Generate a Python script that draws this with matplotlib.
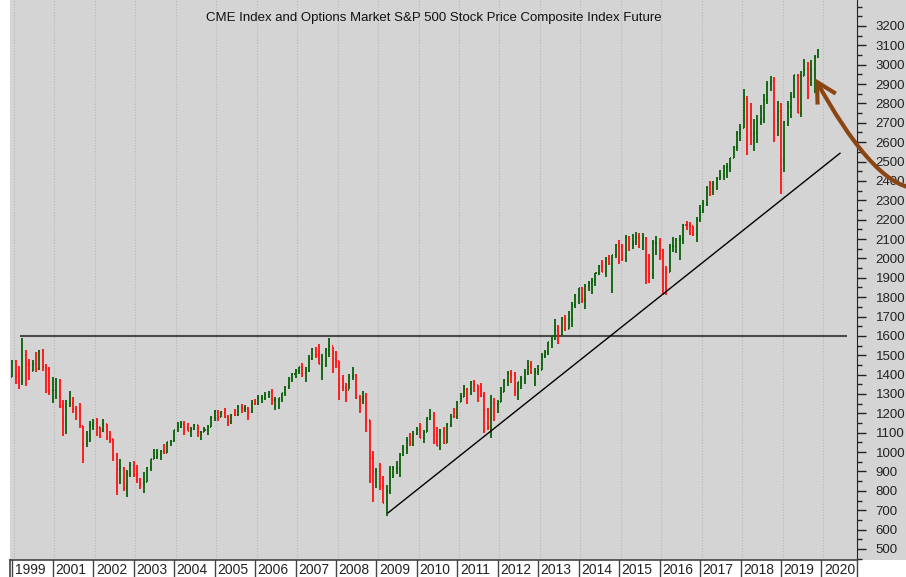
"""
Monthly OHLC bars of the CME S&P 500 future, Dec 1999 to Nov 2019,
with the 1600 resistance line, the 2009 trend line and a hand-drawn arrow.
"""

import numpy as np
import matplotlib.pyplot as plt
from matplotlib.collections import LineCollection
from matplotlib.patches import Rectangle, PathPatch
from matplotlib.path import Path
from matplotlib.ticker import MultipleLocator

plt.rcParams["font.family"] = ["Liberation Sans", "DejaVu Sans"]

title = "CME Index and Options Market S&P 500 Stock Price Composite Index Future"
first_month = (1999, 12)

# one value per month, Dec 1999 first, Nov 2019 last (partial)
opens = [
    1389,
    1469, 1394, 1366, 1499, 1452, 1421, 1455, 1431, 1518, 1437, 1429, 1315,
    1320, 1366, 1240, 1160, 1249, 1256, 1224, 1211, 1134, 1041, 1060, 1139,
    1148, 1130, 1107, 1147, 1077, 1067, 990, 912, 916, 815, 886, 936,
    880, 856, 841, 848, 917, 964, 975, 990, 1008, 996, 1051, 1058,
    1112, 1131, 1145, 1126, 1107, 1121, 1141, 1102, 1104, 1115, 1130, 1174,
    1212, 1181, 1204, 1181, 1157, 1192, 1191, 1234, 1220, 1229, 1207, 1249,
    1248, 1280, 1281, 1295, 1311, 1270, 1270, 1277, 1304, 1336, 1378, 1401,
    1418, 1438, 1407, 1421, 1482, 1531, 1503, 1455, 1474, 1527, 1549, 1481,
    1468, 1379, 1331, 1323, 1386, 1400, 1280, 1267, 1283, 1166, 969, 896,
    903, 826, 735, 798, 873, 919, 919, 987, 1021, 1057, 1036, 1096,
    1115, 1074, 1104, 1169, 1187, 1089, 1031, 1102, 1049, 1141, 1183, 1181,
    1258, 1286, 1327, 1326, 1364, 1345, 1321, 1292, 1219, 1131, 1253, 1247,
    1258, 1312, 1366, 1408, 1398, 1310, 1362, 1379, 1407, 1441, 1412, 1416,
    1426, 1498, 1515, 1569, 1598, 1631, 1606, 1686, 1633, 1682, 1757, 1806,
    1848, 1783, 1859, 1872, 1884, 1924, 1960, 1931, 2003, 1972, 2018, 2068,
    2059, 1995, 2105, 2068, 2086, 2107, 2063, 2104, 1972, 1920, 2079, 2080,
    2044, 1940, 1932, 2060, 2065, 2097, 2099, 2174, 2171, 2168, 2126, 2199,
    2239, 2279, 2364, 2363, 2384, 2412, 2423, 2470, 2472, 2519, 2575, 2648,
    2674, 2824, 2714, 2641, 2648, 2705, 2718, 2816, 2902, 2914, 2712, 2760,
    2507, 2704, 2784, 2834, 2946, 2752, 2942, 2980, 2926, 2977, 3038,
]
highs = [
    1473,
    1478, 1444, 1588, 1527, 1481, 1474, 1517, 1525, 1530, 1454, 1438, 1389,
    1384, 1377, 1268, 1269, 1316, 1287, 1240, 1255, 1136, 1111, 1163, 1173,
    1176, 1131, 1173, 1147, 1107, 1068, 994, 965, 925, 908, 951, 954,
    935, 865, 896, 924, 966, 1015, 1016, 1011, 1040, 1054, 1063, 1113,
    1155, 1159, 1163, 1150, 1128, 1146, 1141, 1109, 1132, 1142, 1188, 1217,
    1218, 1213, 1229, 1192, 1199, 1220, 1245, 1246, 1243, 1233, 1271, 1276,
    1295, 1297, 1310, 1318, 1326, 1284, 1281, 1306, 1340, 1389, 1407, 1431,
    1441, 1461, 1438, 1499, 1535, 1541, 1556, 1504, 1539, 1587, 1545, 1523,
    1471, 1396, 1359, 1404, 1441, 1405, 1293, 1313, 1303, 1168, 1007, 919,
    944, 876, 832, 930, 930, 956, 996, 1039, 1080, 1101, 1111, 1130,
    1150, 1113, 1181, 1220, 1206, 1131, 1121, 1130, 1148, 1196, 1227, 1263,
    1303, 1344, 1333, 1367, 1370, 1346, 1357, 1308, 1230, 1293, 1278, 1270,
    1334, 1378, 1420, 1422, 1415, 1363, 1392, 1427, 1475, 1470, 1434, 1448,
    1510, 1525, 1570, 1598, 1687, 1654, 1698, 1709, 1730, 1775, 1814, 1849,
    1850, 1867, 1883, 1897, 1924, 1968, 1991, 2005, 2019, 2018, 2075, 2093,
    2072, 2120, 2117, 2126, 2135, 2130, 2133, 2113, 2021, 2094, 2116, 2105,
    2046, 1963, 2073, 2111, 2103, 2120, 2178, 2194, 2188, 2169, 2214, 2278,
    2301, 2372, 2401, 2399, 2419, 2454, 2484, 2491, 2520, 2582, 2657, 2695,
    2873, 2836, 2801, 2718, 2742, 2791, 2848, 2917, 2940, 2939, 2815, 2800,
    2708, 2813, 2860, 2949, 2954, 2965, 3028, 3014, 3022, 3050, 3080,
]
lows = [
    1387,
    1350, 1325, 1346, 1339, 1373, 1420, 1413, 1422, 1419, 1305, 1294, 1254,
    1275, 1228, 1081, 1092, 1232, 1203, 1165, 1125, 944, 1026, 1054, 1114,
    1081, 1074, 1106, 1063, 1049, 953, 776, 833, 800, 768, 873, 872,
    840, 807, 789, 847, 902, 963, 962, 960, 990, 995, 1032, 1054,
    1106, 1124, 1088, 1107, 1076, 1113, 1079, 1060, 1102, 1090, 1128, 1163,
    1163, 1180, 1176, 1137, 1146, 1188, 1184, 1201, 1205, 1168, 1202, 1246,
    1245, 1253, 1268, 1280, 1245, 1219, 1224, 1261, 1291, 1327, 1360, 1385,
    1403, 1389, 1364, 1416, 1476, 1484, 1454, 1370, 1439, 1489, 1406, 1435,
    1271, 1317, 1257, 1324, 1374, 1272, 1200, 1248, 1106, 840, 741, 815,
    805, 735, 670, 784, 866, 889, 869, 979, 992, 1030, 1030, 1086,
    1071, 1045, 1102, 1165, 1040, 1029, 1011, 1040, 1049, 1131, 1174, 1173,
    1258, 1285, 1249, 1294, 1311, 1258, 1282, 1101, 1115, 1074, 1159, 1202,
    1258, 1312, 1340, 1358, 1292, 1267, 1325, 1354, 1396, 1403, 1343, 1398,
    1426, 1485, 1501, 1536, 1581, 1560, 1605, 1627, 1633, 1646, 1746, 1767,
    1770, 1738, 1834, 1814, 1860, 1915, 1930, 1905, 1964, 1821, 2001, 1972,
    1988, 1981, 2039, 2048, 2067, 2056, 2044, 1867, 1872, 1893, 2019, 1993,
    1812, 1810, 1932, 2033, 2026, 1992, 2075, 2148, 2120, 2114, 2084, 2188,
    2234, 2271, 2323, 2329, 2353, 2405, 2407, 2417, 2447, 2520, 2557, 2605,
    2674, 2533, 2586, 2554, 2594, 2691, 2698, 2796, 2864, 2603, 2631, 2330,
    2444, 2681, 2723, 2830, 2750, 2728, 2942, 2822, 2892, 2856, 3035,
]
closes = [
    1469,
    1394, 1366, 1499, 1452, 1421, 1455, 1431, 1518, 1437, 1429, 1315, 1320,
    1366, 1240, 1160, 1249, 1256, 1224, 1211, 1134, 1041, 1060, 1139, 1148,
    1130, 1107, 1147, 1077, 1067, 990, 912, 916, 815, 886, 936, 880,
    856, 841, 848, 917, 964, 975, 990, 1008, 996, 1051, 1058, 1112,
    1131, 1145, 1126, 1107, 1121, 1141, 1102, 1104, 1115, 1130, 1174, 1212,
    1181, 1204, 1181, 1157, 1192, 1191, 1234, 1220, 1229, 1207, 1249, 1248,
    1280, 1281, 1295, 1311, 1270, 1270, 1277, 1304, 1336, 1378, 1401, 1418,
    1438, 1407, 1421, 1482, 1531, 1503, 1455, 1474, 1527, 1549, 1481, 1468,
    1379, 1331, 1323, 1386, 1400, 1280, 1267, 1283, 1166, 969, 896, 903,
    826, 735, 798, 873, 919, 919, 987, 1021, 1057, 1036, 1096, 1115,
    1074, 1104, 1169, 1187, 1089, 1031, 1102, 1049, 1141, 1183, 1181, 1258,
    1286, 1327, 1326, 1364, 1345, 1321, 1292, 1219, 1131, 1253, 1247, 1258,
    1312, 1366, 1408, 1398, 1310, 1362, 1379, 1407, 1441, 1412, 1416, 1426,
    1498, 1515, 1569, 1598, 1631, 1606, 1686, 1633, 1682, 1757, 1806, 1848,
    1783, 1859, 1872, 1884, 1924, 1960, 1931, 2003, 1972, 2018, 2068, 2059,
    1995, 2105, 2068, 2086, 2107, 2063, 2104, 1972, 1920, 2079, 2080, 2044,
    1940, 1932, 2060, 2065, 2097, 2099, 2174, 2171, 2168, 2126, 2199, 2239,
    2279, 2364, 2363, 2384, 2412, 2423, 2470, 2472, 2519, 2575, 2648, 2674,
    2824, 2714, 2641, 2648, 2705, 2718, 2816, 2902, 2914, 2712, 2760, 2507,
    2704, 2784, 2834, 2946, 2752, 2942, 2980, 2926, 2977, 3038, 3075,
]

year_labels = ["1999"] + [str(y) for y in range(2001, 2021)]
resistance = 1600
resistance_span = (2000.17, 2020.58)
trend_start = (2009.25, 687)
trend_end = (2020.42, 2543)

W, H = 906, 577
X0, X1 = 1999.90, 2020.84
Y0, Y1 = 443, 3334


def main():
    fig = plt.figure(figsize=(W / 100, H / 100), dpi=100)
    fig.patch.set_facecolor("white")
    fig.add_artist(
        Rectangle((10 / W, 17 / H), 896 / W, 560 / H, transform=fig.transFigure,
                  facecolor="#d4d4d4", edgecolor="none", zorder=0)
    )

    ax = fig.add_axes([10 / W, 17 / H, 847 / W, 560 / H])
    ax.set_facecolor("none")
    ax.set_xlim(X0, X1)
    ax.set_ylim(Y0, Y1)

    for yr in range(2000, 2021):
        ax.axvline(yr, color="#b8b8b8", lw=0.8, ls=(0, (1, 1.5)), zorder=1)

    o = np.array(opens, float)
    h = np.array(highs, float)
    l = np.array(lows, float)
    c = np.array(closes, float)
    t = first_month[0] + (first_month[1] - 0.5) / 12 + np.arange(len(c)) / 12
    w = 1 / 40

    segs, cols = [], []
    for ti, oi, hi, li, ci in zip(t, o, h, l, c):
        col = "#086008" if ci >= oi else "#ff1010"
        segs += [[(ti, li), (ti, hi)], [(ti - w, oi), (ti, oi)], [(ti, ci), (ti + w, ci)]]
        cols += [col] * 3
    ax.add_collection(LineCollection(segs, colors=cols, linewidths=1.3, zorder=3))

    ax.plot(resistance_span, [resistance] * 2, color="#4a4a4a", lw=1.5, zorder=2)
    ax.plot([trend_start[0], trend_end[0]], [trend_start[1], trend_end[1]],
            color="black", lw=1.0, zorder=4)

    ax.text(0.5, 1 - 18 / 560, title, transform=ax.transAxes, ha="center",
            va="center", fontsize=9.5, color="#111111")

    for s in ["left", "top", "bottom"]:
        ax.spines[s].set_visible(False)
    ax.spines["right"].set_color("#222222")
    ax.set_xticks([])
    ax.yaxis.tick_right()
    ax.set_yticks(range(500, 3201, 100))
    ax.yaxis.set_minor_locator(MultipleLocator(50))
    ax.tick_params(axis="y", which="major", length=6.5, width=1, pad=7,
                   labelsize=9.5, colors="#222222")
    ax.tick_params(axis="y", which="minor", length=3.5, width=1, colors="#222222")

    # boxed year labels along the bottom
    strip = fig.add_axes([10 / W, 0, 847 / W, 17 / H])
    strip.set_xlim(X0, X1)
    strip.set_ylim(0, 1)
    strip.axis("off")
    strip.plot([X0, X1], [1, 1], color="#444444", lw=1.2, clip_on=False)
    strip.plot([X0, X0], [0, 1], color="#444444", lw=1.2, clip_on=False)
    for i, lab in enumerate(year_labels):
        yr = 2000 + i
        strip.plot([yr - 0.04, yr - 0.04], [0, 1], color="#444444", lw=1.0)
        strip.text(yr + 0.02, 0.42, lab, ha="left", va="center", fontsize=10,
                   color="#222222")
    strip.plot([X1, X1], [0, 1], color="#444444", lw=1.0, clip_on=False)

    # hand-drawn arrow, in pixel coordinates of the image
    ov = fig.add_axes([0, 0, 1, 1], zorder=5)
    ov.set_xlim(0, W)
    ov.set_ylim(H, 0)
    ov.axis("off")
    brown = "#8b4513"
    curve = Path([(915, 188), (885, 187), (850, 142), (817, 82)],
                 [Path.MOVETO, Path.CURVE4, Path.CURVE4, Path.CURVE4])
    ov.add_patch(PathPatch(curve, facecolor="none", edgecolor=brown, lw=3,
                           capstyle="butt", clip_on=False))
    ov.plot([834, 817, 817.5], [92.5, 82, 102.5], color=brown, lw=3,
            solid_joinstyle="miter", clip_on=False)

    fig.savefig("out.png", dpi=100)


if __name__ == "__main__":
    main()
